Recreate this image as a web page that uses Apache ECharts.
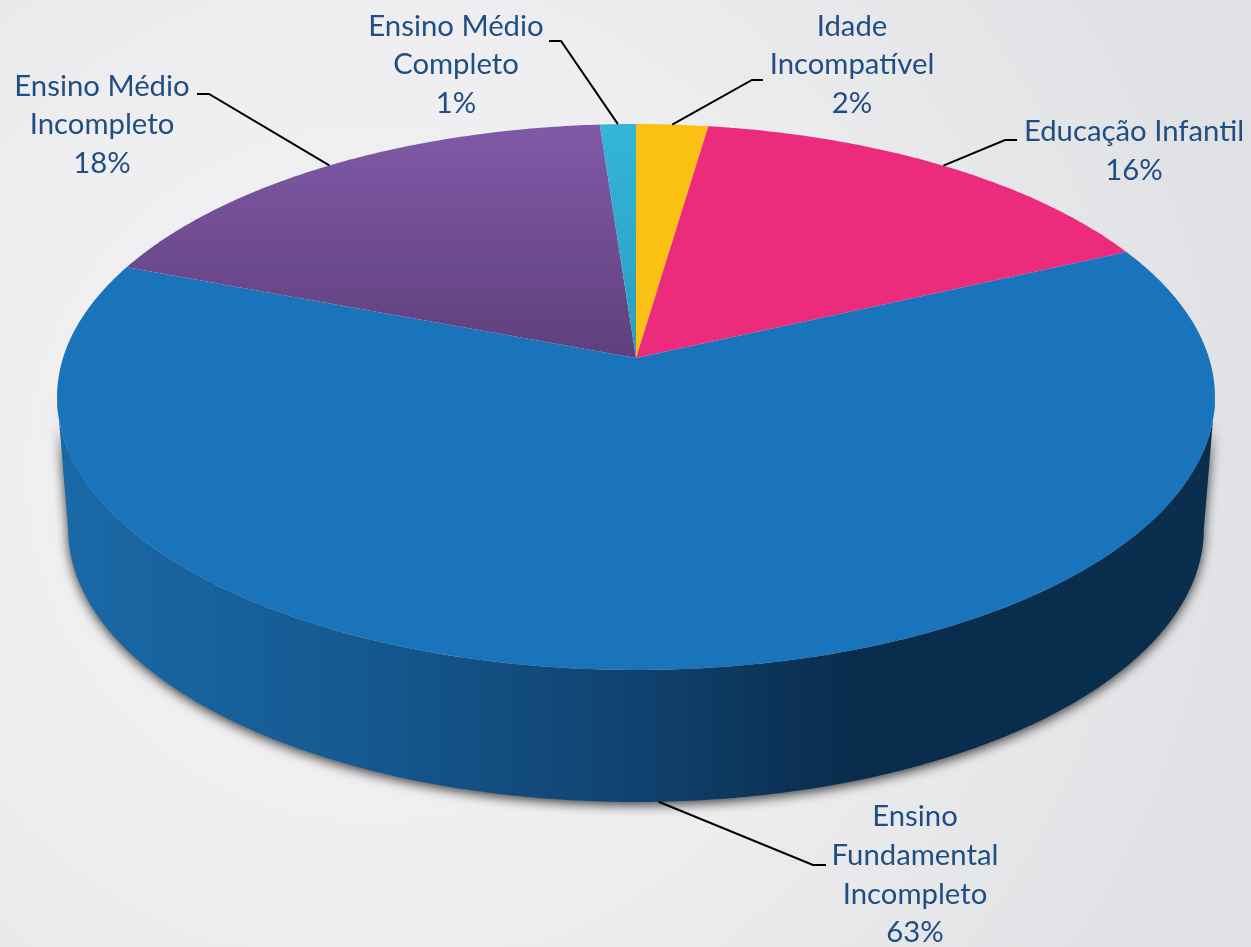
<!DOCTYPE html>
<html>
<head>
<meta charset="utf-8">
<style>
html, body { margin: 0; padding: 0; }
#chart { width: 1251px; height: 947px; }
</style>
<script src="https://cdn.jsdelivr.net/npm/echarts@6/dist/echarts.min.js"></script>
</head>
<body>
<div id="chart"></div>
<script>
// clockwise from the far side of the disc
var categories = ['Idade\nIncompatível', 'Educação Infantil', 'Ensino\nFundamental\nIncompleto', 'Ensino Médio\nIncompleto', 'Ensino Médio\nCompleto'];
var shares = [2.3, 15.8, 62.7, 18.05, 1.15];

var total = shares.reduce(function (a, b) { return a + b; }, 0);
var textColor = '#1f4e82';
var perspective = 1 / 7;
var topDisc = { cx: 636, cy: 358, a: 573, b: 267.4 };
var bottomDisc = { cx: 636, cy: 490, a: 562, b: 267.4 };
var frontFrom = Math.acos(-perspective);
var frontTo = 2 * Math.PI - frontFrom;

var sliceColors = [
    '#fac013',
    '#ec2b7c',
    '#1974bb',
    vertical('#805aa7', '#5f3f7d'),
    vertical('#33b5d9', '#2a9ebf')
];
var labelCenters = [[852, 65], [1134, 151], [915, 875], [102, 125], [456, 65]];
var elbows = [
    [[752, 80], [763, 80]],
    [[1005, 140], [1017, 140]],
    [[813, 865], [826, 865]],
    [[209, 94], [197, 94]],
    [[561, 41], [549, 41]]
];

function vertical(from, to) {
    return {
        type: 'linear', global: true, x: 0, y: 124, x2: 0, y2: 358,
        colorStops: [{ offset: 0, color: from }, { offset: 1, color: to }]
    };
}

function project(disc, angle) {
    var u = Math.sin(angle), v = Math.cos(angle);
    var d = 1 + perspective * v;
    return [disc.cx + disc.a * u / d, disc.cy - disc.b * v / d];
}

function sliceAngles(i) {
    var before = 0;
    for (var k = 0; k < i; k++) before += shares[k];
    return [before / total * 2 * Math.PI, (before + shares[i]) / total * 2 * Math.PI];
}

function rim(disc, from, to) {
    var pts = [];
    var n = Math.max(2, Math.ceil((to - from) / 0.01));
    for (var i = 0; i <= n; i++) pts.push(project(disc, from + (to - from) * i / n));
    return pts;
}

var chart = echarts.init(document.getElementById('chart'));

chart.setOption({
    animation: false,
    backgroundColor: {
        type: 'radial', x: 0.3, y: 0.5, r: 0.95,
        colorStops: [
            { offset: 0, color: '#f3f3f4' },
            { offset: 0.5, color: '#eeeef0' },
            { offset: 1, color: '#e0e1e4' }
        ]
    },
    series: [
        {
            // side wall
            type: 'custom',
            coordinateSystem: 'none',
            data: shares,
            z: 1,
            renderItem: function (params) {
                var ang = sliceAngles(params.dataIndex);
                var from = Math.max(ang[0], frontFrom), to = Math.min(ang[1], frontTo);
                if (to <= from) return { type: 'group', children: [] };
                var pts = rim(topDisc, from, to).concat(rim(bottomDisc, from, to).reverse());
                return {
                    type: 'polygon',
                    shape: { points: pts },
                    style: {
                        fill: {
                            type: 'linear', global: true, x: 60, y: 0, x2: 1210, y2: 0,
                            colorStops: [
                                { offset: 0, color: '#1a69a7' },
                                { offset: 0.25, color: '#155a92' },
                                { offset: 0.5, color: '#10426f' },
                                { offset: 0.69, color: '#092c4c' },
                                { offset: 1, color: '#0a2e4d' }
                            ]
                        },
                        shadowBlur: 12,
                        shadowOffsetY: 3,
                        shadowColor: 'rgba(0,0,0,0.75)'
                    }
                };
            }
        },
        {
            // top face
            type: 'custom',
            coordinateSystem: 'none',
            data: shares,
            z: 2,
            renderItem: function (params) {
                var i = params.dataIndex;
                var ang = sliceAngles(i);
                var pts = [[topDisc.cx, topDisc.cy]].concat(rim(topDisc, ang[0], ang[1]));
                return {
                    type: 'polygon',
                    shape: { points: pts },
                    style: { fill: sliceColors[i] }
                };
            }
        },
        {
            // leader lines and labels
            type: 'custom',
            coordinateSystem: 'none',
            data: shares,
            z: 3,
            renderItem: function (params, api) {
                var i = params.dataIndex;
                var ang = sliceAngles(i);
                var mid = (ang[0] + ang[1]) / 2;
                var inFront = mid > frontFrom && mid < frontTo;
                var anchor = project(inFront ? bottomDisc : topDisc, mid);
                return {
                    type: 'group',
                    children: [
                        {
                            type: 'polyline',
                            shape: { points: [anchor].concat(elbows[i]) },
                            style: { fill: null, stroke: '#000', lineWidth: 2 }
                        },
                        {
                            type: 'text',
                            style: {
                                x: labelCenters[i][0],
                                y: labelCenters[i][1],
                                text: categories[i] + '\n' + Math.round(api.value(0)) + '%',
                                fill: textColor,
                                font: '29.3px Lato',
                                lineHeight: 38.7,
                                align: 'center',
                                verticalAlign: 'middle'
                            }
                        }
                    ]
                };
            }
        }
    ]
});
</script>
</body>
</html>
